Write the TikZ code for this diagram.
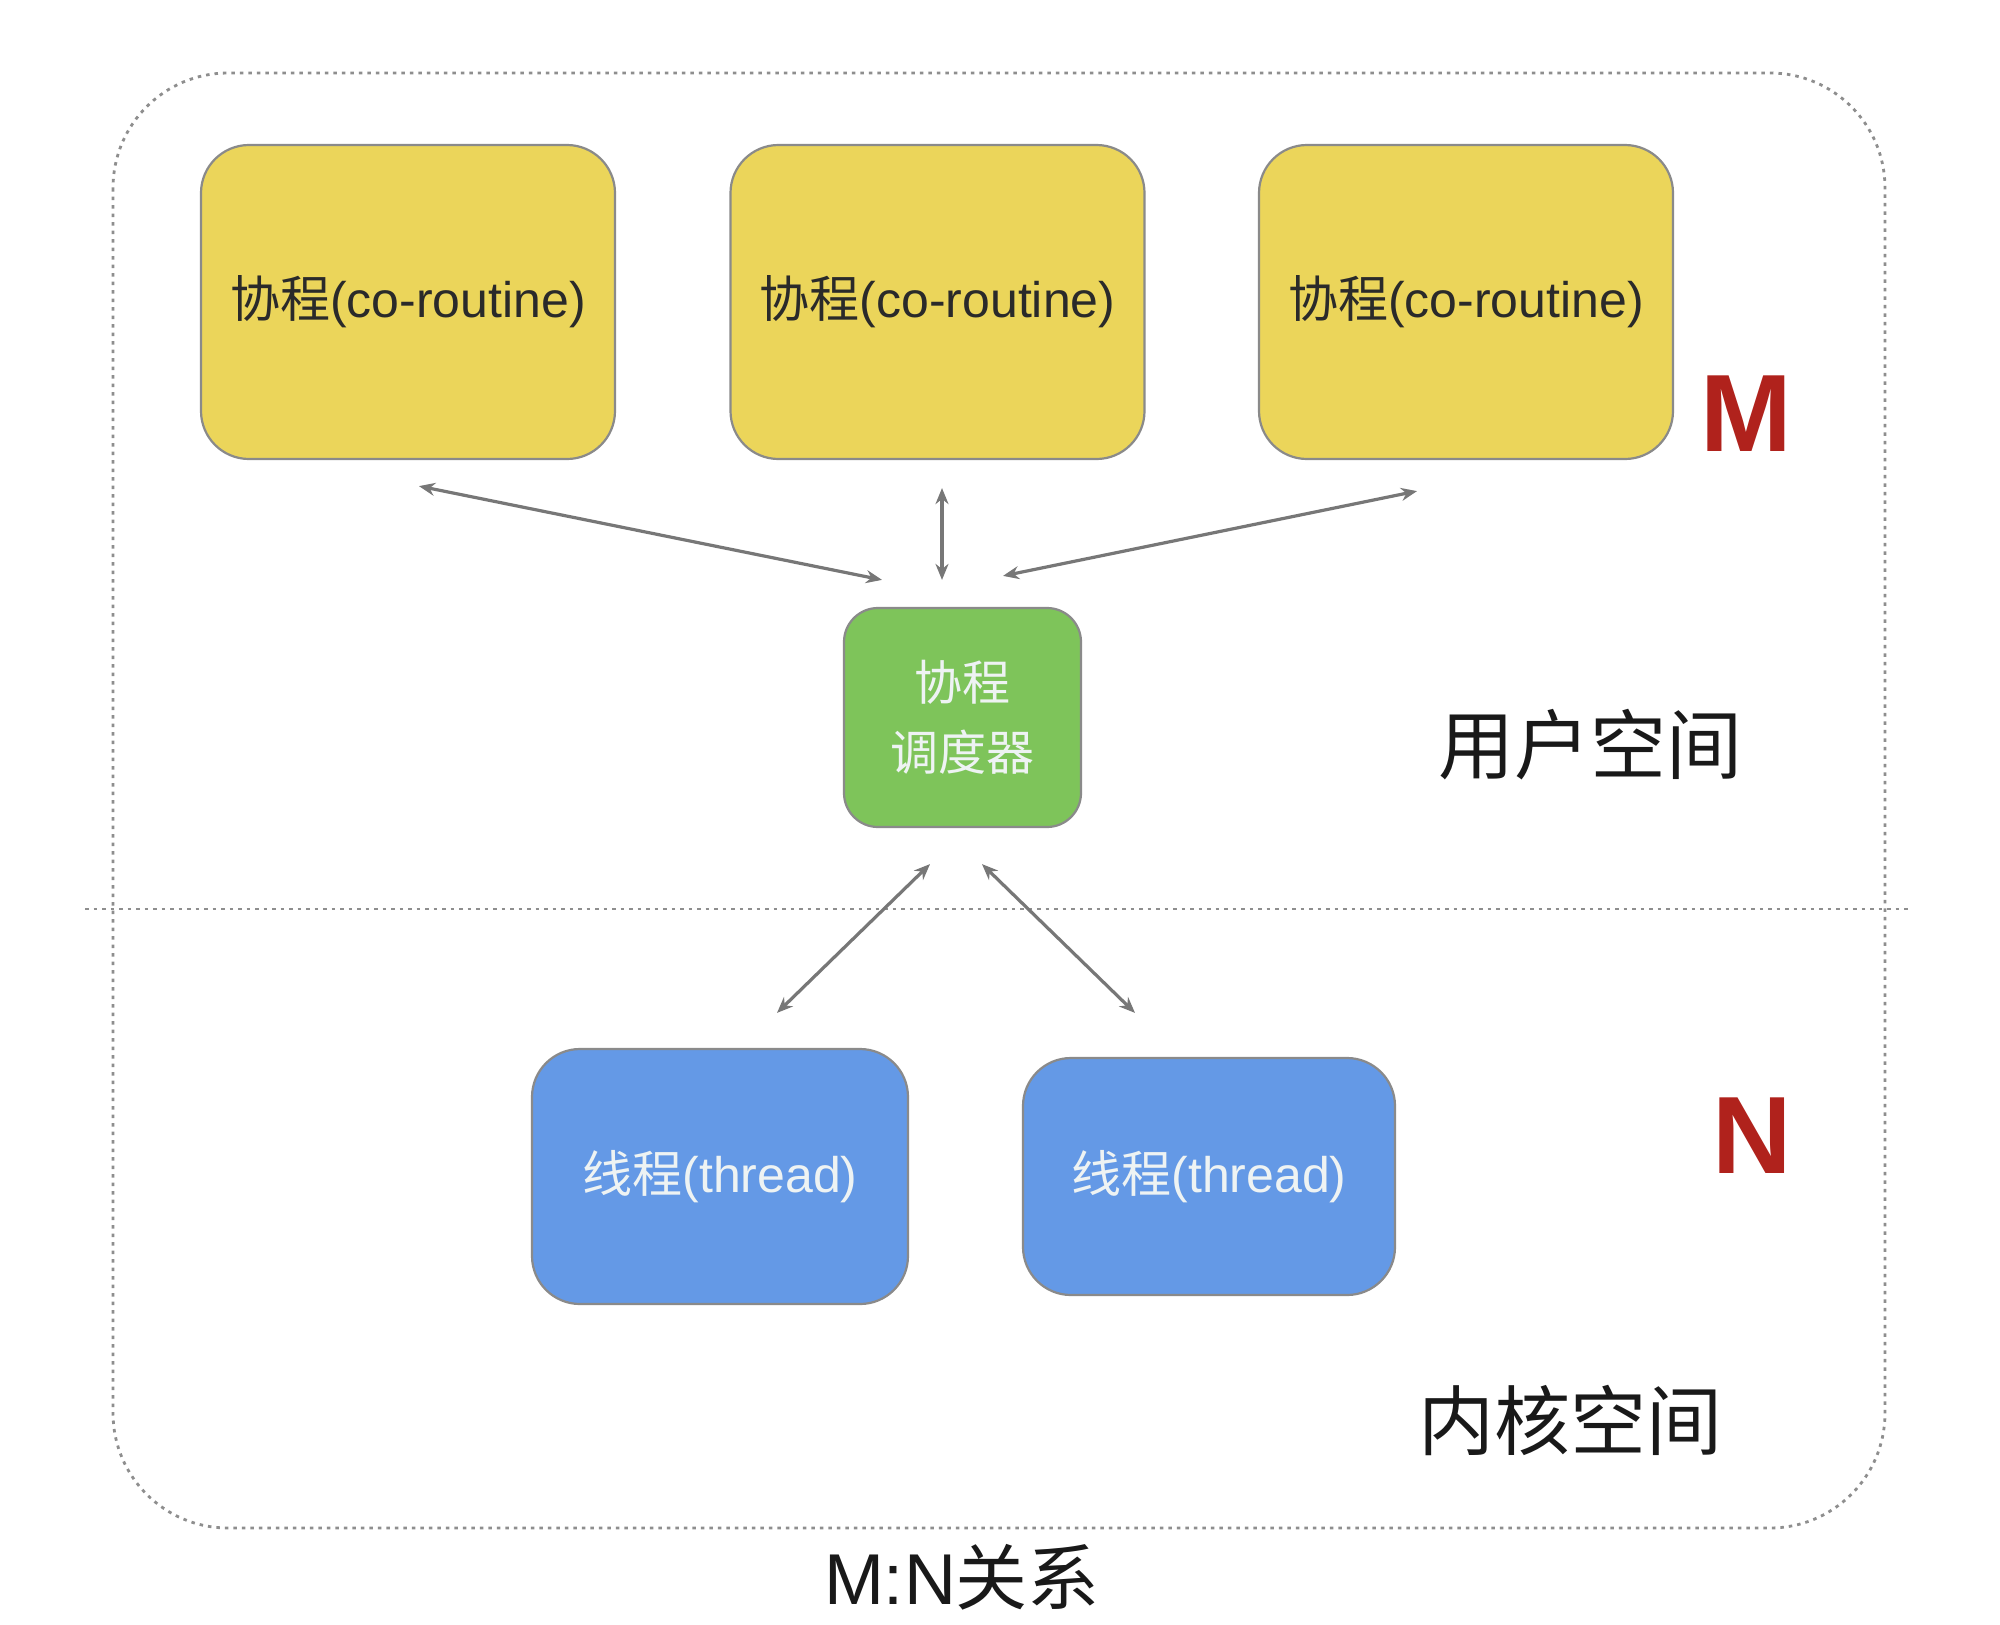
\documentclass[tikz,border=0pt]{standalone}
\usepackage{fontspec}
\setmainfont{Liberation Sans}
\newfontfamily\cjk{Noto Sans CJK SC}
\usetikzlibrary{arrows.meta,calc}
\definecolor{coyellow}{HTML}{EBD55A}
\definecolor{cogreen}{HTML}{7EC45A}
\definecolor{coblue}{HTML}{6499E6}
\definecolor{boxedge}{HTML}{8A8A8A}
\definecolor{arrowgray}{HTML}{777777}
\definecolor{dashgray}{HTML}{8E8E8E}
\definecolor{markred}{HTML}{B0221C}
\definecolor{lighttext}{HTML}{EEF3F3}
\definecolor{darktext}{HTML}{2A2A2A}
\tikzset{
  box/.style={draw=boxedge, line width=2.2pt, rounded corners=48pt, inner sep=0pt},
  cobox/.style={box, fill=coyellow, minimum width=414pt, minimum height=314pt,
    font=\fontsize{50}{56}\selectfont, text=darktext},
  schedbox/.style={box, fill=cogreen, minimum width=237pt, minimum height=219pt,
    rounded corners=34pt, font=\cjk\fontsize{48}{70}\selectfont, text=lighttext, align=center},
  thbox/.style={box, fill=coblue, font=\fontsize{50}{56}\selectfont, text=lighttext},
  link/.style={draw=arrowgray, line width=3.2pt, {Stealth[length=16pt,width=13pt]}-{Stealth[length=16pt,width=13pt]}},
  region/.style={draw=dashgray, line width=2.8pt, dash pattern=on 3.5pt off 5pt},
  bigmark/.style={font=\bfseries\fontsize{110}{110}\selectfont, text=markred},
  spacelabel/.style={font=\cjk\fontsize{76}{80}\selectfont, text=black!90},
}
\begin{document}
\begin{tikzpicture}[x=1pt,y=-1pt]
\useasboundingbox[fill=white] (0,0) rectangle (2000,1625);
% outer region
\draw[region, rounded corners=115pt] (113,73) rectangle (1885,1528);
\draw[region] (85,909) -- (1910,909);
% coroutine boxes
\node[cobox] (y1) at (408,302) {{\cjk 协程}(co-routine)};
\node[cobox] (y2) at (937.5,302) {{\cjk 协程}(co-routine)};
\node[cobox] (y3) at (1466,302) {{\cjk 协程}(co-routine)};
\node[bigmark] (m) at (1746,414) {M};
% scheduler
\node[schedbox] (g) at (962.5,717.5) {协程\\调度器};
\node[spacelabel] (us) at (1590,745) {用户空间};
% threads
\node[thbox, minimum width=376pt, minimum height=255pt] (b1) at (720,1176.5) {{\cjk 线程}(thread)};
\node[thbox, minimum width=372pt, minimum height=237pt] (b2) at (1209,1176.5) {{\cjk 线程}(thread)};
\node[bigmark] (n) at (1752,1136) {N};
\node[spacelabel] (ks) at (1570,1420) {内核空间};
\node[font=\fontsize{72}{76}\selectfont, text=black!90] (title) at (962,1577) {M:N{\cjk 关系}};
% connectors
\draw[link] ($(y1.south)+(11,26)$) -- ($(g.north)+(-80.5,-27)$);
\draw[link] ($(y2.south)+(4.5,28)$) -- ($(g.north)+(-20.5,-27)$);
\draw[link] ($(y3.south)+(-49,31)$) -- ($(g.north)+(40.5,-31)$);
\draw[link] ($(g.south)+(-32.5,36)$) -- ($(b1.north)+(57,-35)$);
\draw[link] ($(g.south)+(19.5,36)$) -- ($(b2.north)+(-74,-44)$);
\end{tikzpicture}
\end{document}
